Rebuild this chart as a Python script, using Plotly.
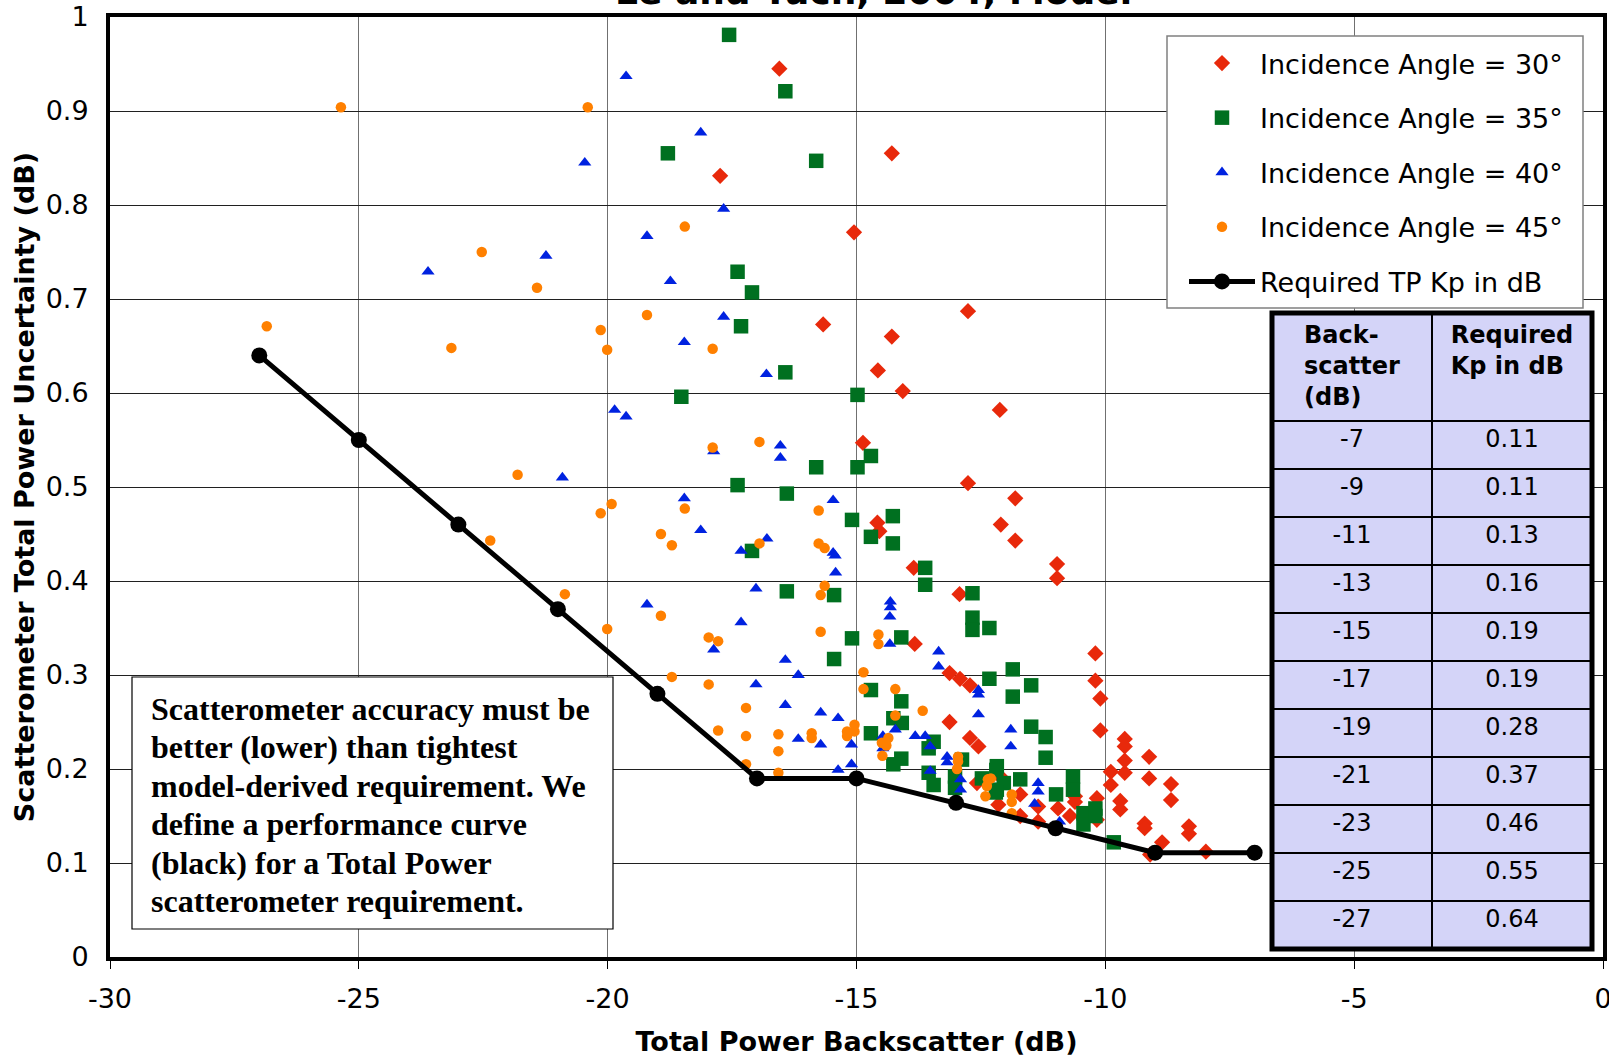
import plotly.graph_objects as go

# ---------------- data ----------------
a30_x = [-16.55,-17.74,-14.29,-15.05,-12.76,-15.67,-14.29,-14.57,-14.07,-12.12,-14.87,-12.76,-11.81,-12.10,-14.58,-14.54,-11.81,-13.85,-10.97,-10.97,-12.93,-13.83,-10.20,-10.20,-10.10,-13.13,-12.92,-12.72,-13.13,-12.72,-12.55,-10.10,-9.61,-9.61,-9.61,-9.61,-9.89,-9.89,-9.12,-9.12,-8.68,-8.68,-9.70,-9.70,-10.17,-10.17,-9.21,-9.21,-8.86,-9.10,-8.32,-8.32,-7.98,-10.61,-10.61,-10.71,-10.95,-11.35,-11.35,-11.71,-11.71,-12.15,-12.11,-12.58]
a30_y = [0.945,0.831,0.855,0.771,0.687,0.673,0.660,0.624,0.602,0.582,0.547,0.504,0.488,0.460,0.462,0.453,0.443,0.414,0.418,0.403,0.386,0.333,0.323,0.294,0.275,0.302,0.296,0.289,0.250,0.233,0.224,0.241,0.232,0.224,0.209,0.196,0.197,0.183,0.213,0.190,0.184,0.167,0.166,0.157,0.169,0.146,0.142,0.137,0.122,0.109,0.139,0.131,0.112,0.171,0.165,0.150,0.158,0.160,0.144,0.173,0.150,0.162,0.192,0.185]

a35_x = [-17.56,-16.43,-18.79,-15.81,-17.39,-17.10,-17.32,-16.43,-18.52,-14.98,-14.71,-14.98,-15.81,-17.39,-16.40,-14.27,-15.09,-14.71,-14.27,-17.10,-13.62,-13.62,-16.40,-15.45,-12.67,-12.67,-12.67,-12.33,-15.09,-14.10,-15.45,-12.33,-14.71,-14.10,-14.26,-14.09,-14.71,-13.45,-13.55,-14.10,-14.26,-13.55,-13.45,-12.88,-13.02,-13.02,-12.48,-12.18,-12.18,-11.86,-11.49,-11.86,-11.49,-11.20,-11.20,-12.19,-11.71,-12.04,-12.20,-10.99,-10.65,-10.65,-10.44,-10.44,-10.20,-10.20,-9.83]
a35_y = [0.981,0.921,0.855,0.847,0.729,0.707,0.671,0.622,0.596,0.598,0.533,0.521,0.521,0.502,0.493,0.469,0.465,0.447,0.440,0.432,0.414,0.396,0.389,0.385,0.387,0.361,0.348,0.350,0.339,0.340,0.317,0.296,0.284,0.272,0.254,0.249,0.238,0.229,0.222,0.211,0.205,0.196,0.183,0.210,0.192,0.180,0.190,0.203,0.178,0.306,0.289,0.277,0.245,0.234,0.212,0.199,0.189,0.185,0.175,0.173,0.192,0.178,0.153,0.141,0.158,0.150,0.122]

a40_x = [-19.63,-20.46,-19.21,-21.24,-23.61,-19.86,-19.63,-20.91,-19.21,-18.13,-17.67,-18.74,-17.67,-18.46,-16.81,-17.87,-16.53,-16.53,-18.46,-15.47,-18.13,-16.80,-17.32,-15.47,-15.43,-15.42,-17.02,-14.32,-14.32,-14.33,-17.32,-17.87,-14.33,-13.35,-13.35,-16.43,-16.17,-12.55,-12.55,-17.02,-16.43,-12.55,-15.72,-15.37,-14.22,-13.82,-13.62,-13.52,-14.47,-14.47,-16.17,-15.72,-15.10,-15.10,-15.37,-13.18,-13.18,-13.52,-12.91,-12.91,-11.90,-11.90,-11.35,-11.35,-11.42,-10.92]
a40_y = [0.937,0.845,0.767,0.746,0.729,0.582,0.575,0.510,0.375,0.877,0.796,0.719,0.681,0.654,0.620,0.538,0.544,0.531,0.488,0.486,0.454,0.445,0.432,0.430,0.427,0.409,0.392,0.378,0.372,0.362,0.356,0.327,0.333,0.325,0.309,0.316,0.300,0.284,0.279,0.290,0.268,0.258,0.260,0.254,0.242,0.235,0.235,0.224,0.235,0.222,0.232,0.226,0.226,0.205,0.199,0.213,0.207,0.198,0.189,0.178,0.242,0.224,0.185,0.176,0.163,0.144]

a45_x = [-25.36,-20.40,-22.53,-21.42,-19.21,-26.85,-20.14,-23.14,-20.01,-21.81,-19.92,-20.14,-22.36,-20.86,-20.01,-18.45,-17.89,-17.89,-16.95,-18.45,-15.76,-18.93,-18.71,-16.95,-15.76,-15.64,-15.64,-15.72,-18.93,-15.72,-17.97,-17.78,-14.56,-14.56,-18.71,-17.97,-14.86,-14.86,-14.22,-13.67,-14.22,-17.22,-17.78,-17.22,-16.57,-16.57,-15.90,-15.90,-15.19,-15.19,-15.04,-15.04,-14.49,-14.36,-14.40,-14.48,-17.22,-16.57,-12.96,-12.96,-12.98,-12.36,-12.38,-12.41,-11.88,-11.88,-11.88,-12.30]
a45_y = [0.904,0.904,0.750,0.712,0.683,0.671,0.667,0.648,0.646,0.513,0.482,0.472,0.443,0.386,0.349,0.777,0.647,0.542,0.548,0.477,0.475,0.450,0.438,0.440,0.440,0.435,0.395,0.385,0.363,0.346,0.340,0.336,0.343,0.333,0.298,0.290,0.303,0.285,0.285,0.262,0.257,0.265,0.241,0.235,0.237,0.219,0.238,0.233,0.240,0.235,0.247,0.240,0.228,0.233,0.225,0.214,0.205,0.196,0.213,0.208,0.200,0.189,0.182,0.171,0.173,0.165,0.153,0.190]

req_x = [-27, -25, -23, -21, -19, -17, -15, -13, -11, -9, -7]
req_kp = [0.64, 0.55, 0.46, 0.37, 0.28, 0.19, 0.19, 0.164, 0.137, 0.111, 0.111]

table_backscatter = ["-7", "-9", "-11", "-13", "-15", "-17", "-19", "-21", "-23", "-25", "-27"]
table_kp = ["0.11", "0.11", "0.13", "0.16", "0.19", "0.19", "0.28", "0.37", "0.46", "0.55", "0.64"]

x_ticks = [-30, -25, -20, -15, -10, -5, 0]
y_ticks = [0, 0.1, 0.2, 0.3, 0.4, 0.5, 0.6, 0.7, 0.8, 0.9, 1]

note_lines = [
    "Scatterometer accuracy must be",
    "better (lower) than tightest",
    "model-derived requirement. We",
    "define a performance curve",
    "(black) for a Total Power",
    "scatterometer requirement.",
]

# ---------------- layout geometry ----------------
W, H = 1609, 1058
ML, MR, MT, MB = 110, 6, 17, 101
PW, PH = W - ML - MR, H - MT - MB

def px(xp):
    return (xp - ML) / PW

def py(yp):
    return (H - MB - yp) / PH

FONT = "DejaVu Sans"
RED, GREEN, BLUE, ORANGE = "#E8290B", "#007020", "#0022E0", "#FF8000"

fig = go.Figure()
fig.add_trace(go.Scatter(x=a30_x, y=a30_y, mode="markers", name="Incidence Angle = 30°",
                         legendgroup="g1",
                         marker=dict(symbol="diamond", size=12.5, color=RED)))
fig.add_trace(go.Scatter(x=a35_x, y=a35_y, mode="markers", name="Incidence Angle = 35°",
                         legendgroup="g2",
                         marker=dict(symbol="square", size=14.5, color=GREEN)))
fig.add_trace(go.Scatter(x=a40_x, y=a40_y, mode="markers", name="Incidence Angle = 40°",
                         legendgroup="g3",
                         marker=dict(symbol="triangle-up", size=11.5, color=BLUE)))
fig.add_trace(go.Scatter(x=a45_x, y=a45_y, mode="markers", name="Incidence Angle = 45°",
                         legendgroup="g4",
                         marker=dict(symbol="circle", size=10.5, color=ORANGE)))
fig.add_trace(go.Scatter(x=req_x, y=req_kp, mode="lines+markers", name="Required TP Kp in dB",
                         legendgroup="g5",
                         line=dict(color="black", width=5),
                         marker=dict(symbol="circle", size=16, color="black")))

tbl_x = [px(1272), px(1592)]
tbl_y = [py(949), py(313)]
LAV = "#D4D4F8"
fig.add_trace(go.Table(
    domain=dict(x=tbl_x, y=[0.0, tbl_y[1]]),
    columnwidth=[1, 1],
    header=dict(values=["<b>Back-<br>scatter<br>(dB)</b>", "<b>Required<br>Kp in dB</b>"],
                fill_color=LAV, line=dict(color="black", width=2),
                font=dict(family=FONT, size=24, color="black"),
                align="center", height=108),
    cells=dict(values=[table_backscatter, table_kp],
               fill_color=LAV, line=dict(color="black", width=2),
               font=dict(family=FONT, size=24, color="black"),
               align="center", height=48),
))

annotations = [
    dict(xref="paper", yref="paper", x=px(149), y=py(709 + i * 38.4), xanchor="left", yanchor="middle",
         text=f"<b>{line}</b>", align="left", showarrow=False,
         font=dict(family="Liberation Serif", size=32, color="black"))
    for i, line in enumerate(note_lines)
]
annotations.append(
    dict(xref="paper", yref="paper", x=px(873), y=py(14), xanchor="center", yanchor="bottom",
         text="<b>Le and Tuch, 2004, Model</b>", showarrow=False,
         font=dict(family=FONT, size=36, color="black")))

fig.update_layout(
    width=W, height=H,
    margin=dict(l=ML, r=MR, t=MT, b=MB, autoexpand=False),
    paper_bgcolor="white", plot_bgcolor="white",
    font=dict(family=FONT, color="black"),
    showlegend=True,
    legend=dict(x=px(1184), y=py(39), xanchor="left", yanchor="top",
                bgcolor="rgba(0,0,0,0)", borderwidth=0,
                font=dict(family=FONT, size=27, color="black"),
                tracegroupgap=16.5, itemwidth=66),
    xaxis=dict(range=[-30, 0], tickvals=x_ticks, ticktext=[str(v) for v in x_ticks],
               showgrid=True, gridcolor="#707070", gridwidth=1,
               showline=True, linecolor="black", linewidth=4, mirror=True,
               ticks="outside", ticklen=8, tickcolor="black", tickwidth=1,
               tickfont=dict(family=FONT, size=27, color="black"),
               zeroline=False, automargin=False, ticklabelstandoff=7,
               ticklabeloverflow="allow",
               title=dict(text="<b>Total Power Backscatter (dB)</b>",
                          font=dict(family=FONT, size=27, color="black"), standoff=20)),
    yaxis=dict(range=[0, 1], tickvals=y_ticks, ticktext=[f"{v:g}" for v in y_ticks],
               showgrid=True, gridcolor="#202020", gridwidth=1,
               showline=True, linecolor="black", linewidth=4, mirror=True,
               ticks="", tickfont=dict(family=FONT, size=27, color="black"),
               zeroline=False, automargin=False, ticklabelstandoff=12,
               ticklabeloverflow="allow",
               title=dict(text="<b>Scatterometer Total Power Uncertainty (dB)</b>",
                          font=dict(family=FONT, size=27, color="black"), standoff=4)),
    shapes=[
        dict(type="rect", xref="paper", yref="paper", x0=px(1167), x1=px(1583), y0=py(308), y1=py(36),
             fillcolor="white", line=dict(color="#808080", width=1.5), layer="above"),
        dict(type="rect", xref="paper", yref="paper", x0=px(132), x1=px(613), y0=py(929), y1=py(677),
             fillcolor="white", line=dict(color="black", width=1.2), layer="above"),
        dict(type="rect", xref="paper", yref="paper", x0=tbl_x[0], x1=tbl_x[1], y0=tbl_y[0], y1=tbl_y[1],
             fillcolor="rgba(0,0,0,0)", line=dict(color="black", width=5), layer="above"),
    ],
    annotations=annotations,
)

fig.write_html("out.html", config={"displayModeBar": False},
               post_script="document.body.style.margin='0';document.body.style.overflow='hidden';")
